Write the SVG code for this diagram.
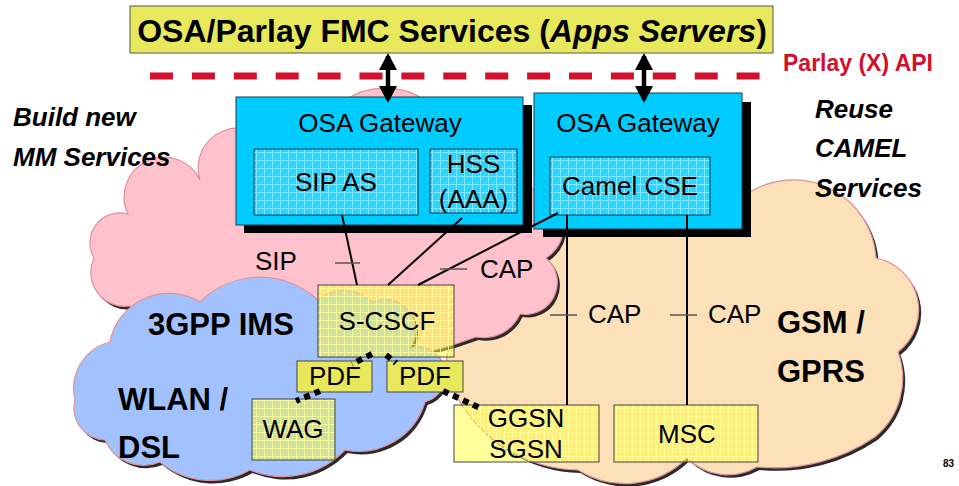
<svg xmlns="http://www.w3.org/2000/svg" width="959" height="486" viewBox="0 0 959 486">
<defs>
<style>
text { font-family: "Liberation Sans", Arial, sans-serif; fill: #000; }
.lbl { font-size: 26px; }
.lblc { font-size: 26px; text-anchor: middle; }
.big { font-size: 31px; font-weight: bold; }
.bi { font-size: 26px; font-weight: bold; font-style: italic; }
.api { font-size: 23px; font-weight: bold; fill: #d0102c; }
.cshadow { fill: #2a2a2a; }
.cloud { stroke: #e0909a; stroke-width: 1.2; }
.gw { fill: #00ccff; stroke: #1a3a4a; stroke-width: 1; }
.shadow { fill: #000; }
.inner { fill: url(#cgrid); stroke: #1a3a4a; stroke-width: 1; }
.ybox { fill: url(#ygrid); stroke: #444; stroke-width: 1; }
.pdf { fill: #e8e85c; stroke: #444; stroke-width: 1; }
.link { stroke: #000; stroke-width: 2; fill: none; }
.tick { stroke: #555; stroke-width: 1.5; }
.dots { stroke: #000; stroke-width: 6; stroke-dasharray: 6 5; fill: none; }
.arrow { stroke: #000; stroke-width: 4.5; marker-start: url(#ah); marker-end: url(#ah); }
</style>
<pattern id="cgrid" patternUnits="userSpaceOnUse" width="8" height="8">
<rect width="8" height="8" fill="#2ed6ff"/>
<path d="M0 0.5H8M0.5 0V8" stroke="#7ee9ff" stroke-width="1"/>
</pattern>
<pattern id="ygrid" patternUnits="userSpaceOnUse" width="8" height="8">
<rect width="8" height="8" fill="#ffff40" fill-opacity="0.5"/>
<path d="M0 0.5H8M0.5 0V8" stroke="#ffff99" stroke-opacity="0.8" stroke-width="1"/>
</pattern>
<marker id="ah" markerUnits="userSpaceOnUse" markerWidth="18" markerHeight="18" refX="14" refY="9" orient="auto-start-reverse" viewBox="0 0 18 18">
<path d="M0 0L17 9L0 18z" fill="#000"/>
</marker>
<path id="peachP" d="M470,250 L560,190 L750,192 A83 83 0 0 1 876,258 A53 53 0 0 1 898,352 A76 76 0 0 1 875,437 A179 179 0 0 1 757,467 A58 58 0 0 1 687,458 A88 88 0 0 1 578,470 A141 141 0 0 1 455,393 A51 51 0 0 1 458,332 Z"/>
<path id="pinkP" d="M130,306 A34 34 0 0 1 94,258 A30 30 0 0 1 128,214 A38 38 0 0 1 200,180 A40 40 0 0 1 240,128 L345,100 A73 73 0 0 1 425,100 L500,100 L530,188 A38 38 0 0 1 546,258 A32 32 0 0 1 520,314 A40 40 0 0 1 476,337 A400 400 0 0 1 130,306 Z"/>
<path id="blueP" d="M75,400 A48 48 0 0 1 110,342 A60 60 0 0 1 200,302 A85 85 0 0 1 318,300 A40 40 0 0 1 372,302 A31 31 0 0 1 410,348 A28 28 0 0 1 425,402 A69 69 0 0 1 345,450 A86 86 0 0 1 250,470 A79 79 0 0 1 160,462 A42 42 0 0 1 105,440 A32 32 0 0 1 75,400 Z"/>
</defs>

<g id="clouds">
<use href="#peachP" class="cshadow" transform="translate(2.5,3)"/>
<use href="#peachP" class="cloud" fill="#fbe0b8"/>
<use href="#pinkP" class="cshadow" transform="translate(2.5,3)"/>
<use href="#pinkP" class="cloud" fill="#ffc2cc"/>
<use href="#blueP" class="cshadow" transform="translate(2.5,3)"/>
<use href="#blueP" class="cloud" fill="#a2c2ff"/>
</g>

<g id="title">
<rect x="130" y="6" width="643" height="47" fill="#e8e85c" stroke="#555" stroke-width="1"/>
<text x="452" y="42" text-anchor="middle" font-size="32" font-weight="bold">OSA/Parlay FMC Services (<tspan font-style="italic">Apps Servers</tspan>)</text>
</g>

<g id="api-line">
<line x1="150" y1="76" x2="760" y2="76" stroke="#d0102c" stroke-width="7" stroke-dasharray="23 18.9"/>
<text class="api" x="783" y="71">Parlay (X) API</text>
</g>

<g id="gw1">
<rect class="shadow" x="244" y="105" width="288" height="128"/>
<rect class="gw" x="236" y="97" width="287" height="128"/>
<text class="lblc" x="380" y="132">OSA Gateway</text>
</g>
<g id="sipas">
<rect class="inner" x="254" y="149" width="164" height="66"/>
<text class="lblc" x="336" y="191">SIP AS</text>
</g>
<g id="hss">
<rect class="inner" x="430" y="149" width="87" height="64"/>
<text class="lblc" x="473.5" y="173">HSS</text>
<text class="lblc" x="473.5" y="208">(AAA)</text>
</g>

<g id="gw2">
<rect class="shadow" x="543" y="102" width="208" height="135"/>
<rect class="gw" x="534" y="93" width="208" height="136"/>
<text class="lblc" x="638" y="132">OSA Gateway</text>
</g>
<g id="camel">
<rect class="inner" x="550" y="157" width="160" height="58"/>
<text class="lblc" x="630" y="195">Camel CSE</text>
</g>

<g id="scscf">
<rect class="ybox" x="318" y="285" width="136" height="72"/>
<text class="lblc" x="387" y="330">S-CSCF</text>
</g>
<g id="pdf1">
<rect class="pdf" x="297" y="361" width="75" height="31"/>
<text class="lblc" x="335" y="385">PDF</text>
</g>
<g id="pdf2">
<rect class="pdf" x="387" y="361" width="76" height="31"/>
<text class="lblc" x="425" y="385">PDF</text>
</g>
<g id="wag">
<rect class="ybox" x="252" y="399" width="83" height="61"/>
<text class="lblc" x="293" y="438">WAG</text>
</g>
<g id="ggsn">
<rect class="ybox" x="454" y="405" width="145" height="57"/>
<text class="lblc" x="526" y="427">GGSN</text>
<text class="lblc" x="526" y="458">SGSN</text>
</g>
<g id="msc">
<rect class="ybox" x="614" y="405" width="144" height="57"/>
<text class="lblc" x="687" y="443">MSC</text>
</g>

<g id="connectors">
<line class="link" x1="342" y1="215" x2="357" y2="285"/>
<line class="link" x1="462" y1="218" x2="388" y2="285"/>
<line class="link" x1="558" y1="213" x2="418" y2="285"/>
<line class="link" x1="567" y1="215" x2="567" y2="405"/>
<line class="link" x1="687" y1="215" x2="687" y2="405"/>
<line class="tick" x1="335" y1="263" x2="360" y2="263"/>
<line class="tick" x1="440" y1="269" x2="467" y2="269"/>
<line class="tick" x1="550" y1="315" x2="577" y2="315"/>
<line class="tick" x1="670" y1="315" x2="697" y2="315"/>
<line class="dots" x1="372" y1="354" x2="352" y2="364"/>
<line class="dots" x1="386" y1="355" x2="396" y2="363"/>
<line class="dots" x1="320" y1="391" x2="296" y2="401"/>
<line class="dots" x1="443" y1="391" x2="480" y2="408"/>
<line class="arrow" x1="388" y1="56" x2="388" y2="100"/>
<line class="arrow" x1="644" y1="56" x2="644" y2="100"/>
</g>

<g id="labels">
<text class="lbl" x="255" y="270">SIP</text>
<text class="lbl" x="480" y="278">CAP</text>
<text class="lbl" x="588" y="323">CAP</text>
<text class="lbl" x="708" y="323">CAP</text>
<text class="big" x="148" y="335">3GPP IMS</text>
<text class="big" x="118" y="410">WLAN /</text>
<text class="big" x="118" y="458">DSL</text>
<text class="big" x="777" y="333">GSM /</text>
<text class="big" x="777" y="382">GPRS</text>
<text class="bi" x="13" y="126">Build new</text>
<text class="bi" x="13" y="166">MM Services</text>
<text class="bi" x="815" y="118">Reuse</text>
<text class="bi" x="815" y="157">CAMEL</text>
<text class="bi" x="815" y="197">Services</text>
<text x="943" y="467" font-size="10" font-weight="bold">83</text>
</g>
</svg>
